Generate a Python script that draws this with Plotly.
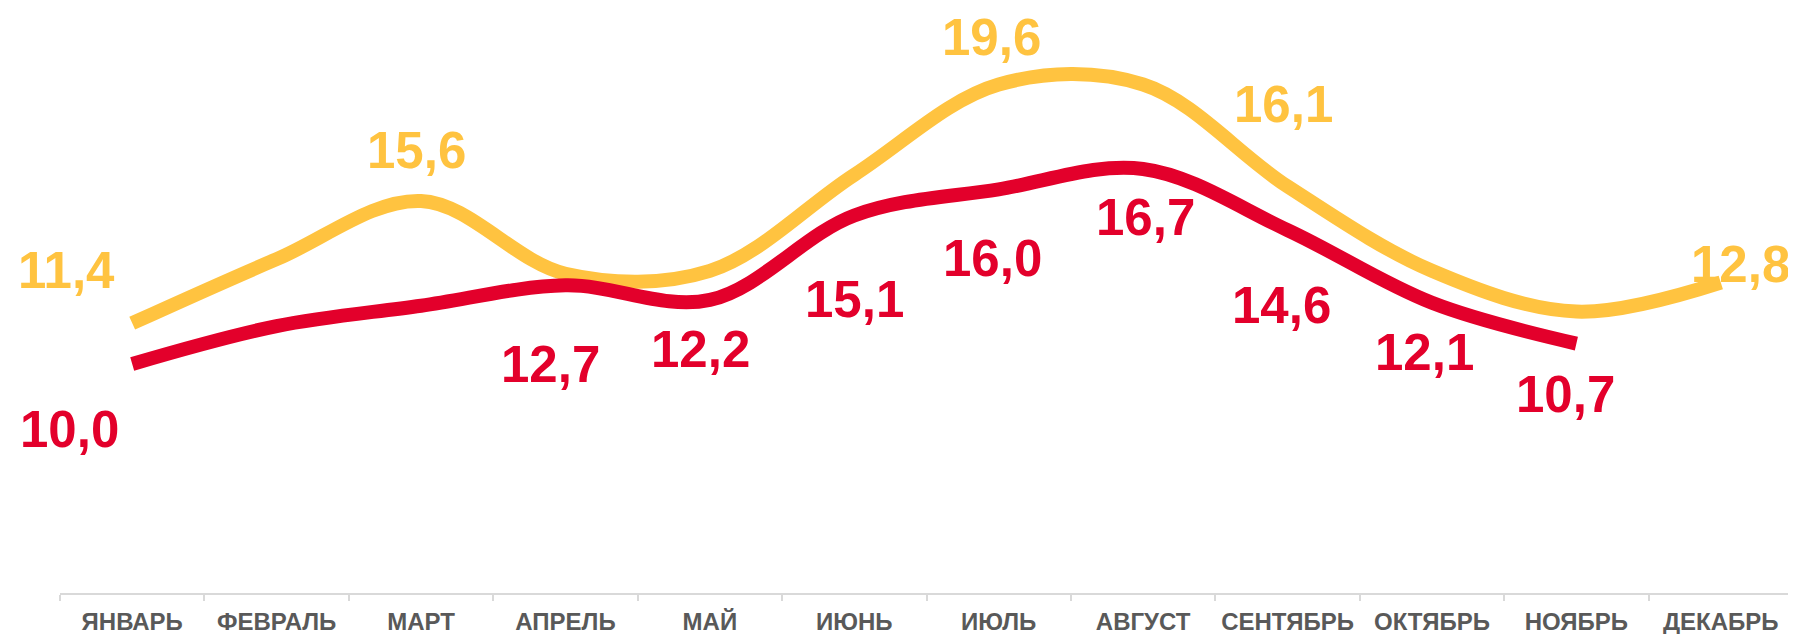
import plotly.graph_objects as go

months = ["ЯНВАРЬ", "ФЕВРАЛЬ", "МАРТ", "АПРЕЛЬ", "МАЙ", "ИЮНЬ", "ИЮЛЬ",
          "АВГУСТ", "СЕНТЯБРЬ", "ОКТЯБРЬ", "НОЯБРЬ", "ДЕКАБРЬ"]
yellow_vals = [11.4, 13.6, 15.6, 13.1, 13.2, 16.5, 19.6, 19.6, 16.1, 13.2, 11.8, 12.8]
red_vals = [10.0, 11.3, 12.0, 12.7, 12.2, 15.1, 16.0, 16.7, 14.6, 12.1, 10.7, None]

yellow_labeled = [0, 2, 6, 8, 11]
red_labeled = [0, 3, 4, 5, 6, 7, 8, 9, 10]

YELLOW = "#FFC340"
RED = "#E3002B"

# label offsets in pixels (dx, dy-up)
yellow_off = {0: (-66, 53), 2: (-5, 50), 6: (-7, 47), 8: (-4, 82), 11: (20, 18)}
red_off = {0: (-63, -66), 3: (-15, -79), 4: (-9, -50), 5: (0, -84), 6: (-6, -69),
           7: (2, -49), 8: (-6, -75), 9: (-7, -50), 10: (-11, -51)}

fig = go.Figure()
fig.add_trace(go.Scatter(x=months, y=yellow_vals, mode="lines",
                         line=dict(color=YELLOW, width=14, shape="spline", smoothing=1.0),
                         hoverinfo="skip", showlegend=False))
fig.add_trace(go.Scatter(x=months, y=red_vals, mode="lines",
                         line=dict(color=RED, width=14, shape="spline", smoothing=1.0),
                         hoverinfo="skip", showlegend=False, connectgaps=False))

def fmt(v):
    return f"{v:.1f}".replace(".", ",")

FONT = "Liberation Sans, Arial, sans-serif"
annotations = []
for i in yellow_labeled:
    dx, dy = yellow_off[i]
    annotations.append(dict(x=months[i], y=yellow_vals[i], xref="x", yref="y",
                            text=fmt(yellow_vals[i]), showarrow=False,
                            xshift=dx, yshift=dy,
                            font=dict(family=FONT, size=51, color=YELLOW, weight="bold")))
for i in red_labeled:
    dx, dy = red_off[i]
    annotations.append(dict(x=months[i], y=red_vals[i], xref="x", yref="y",
                            text=fmt(red_vals[i]), showarrow=False,
                            xshift=dx, yshift=dy,
                            font=dict(family=FONT, size=51, color=RED, weight="bold")))

# page body has an 8px default margin, so the figure is sized to fit the window
fig.update_layout(
    width=1788, height=626,
    margin=dict(l=52, r=3, t=0, b=41),
    paper_bgcolor="white", plot_bgcolor="white",
    annotations=annotations,
    xaxis=dict(
        type="category", range=[-0.5, 11.5],
        showline=True, linecolor="#D9D9D9", linewidth=2,
        ticks="outside", ticklen=6, tickcolor="#D9D9D9", tickwidth=2,
        tickson="boundaries", showgrid=False, zeroline=False,
        ticklabelstandoff=6,
        tickfont=dict(family=FONT, size=24, color="#595959", weight="bold"),
    ),
    yaxis=dict(range=[2.13, 22.23], visible=False, showgrid=False, zeroline=False),
)

fig.write_html("out.html")
